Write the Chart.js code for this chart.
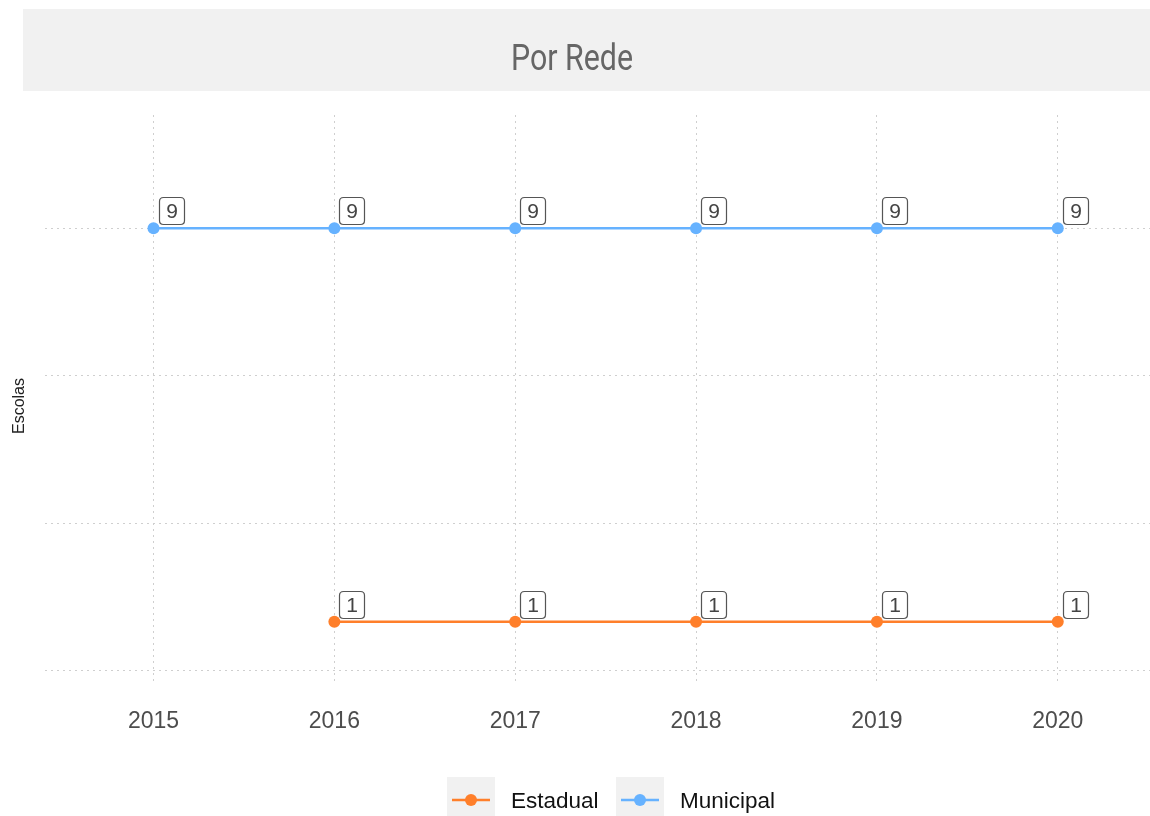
<!DOCTYPE html>
<html>
<head>
<meta charset="utf-8">
<script src="https://cdn.jsdelivr.net/npm/chart.js@4"></script>
<style>
  html, body { margin: 0; padding: 0; background: #fff; }
  #wrap { width: 1150px; height: 816px; }
</style>
</head>
<body>
<div id="wrap"><canvas id="redeChart" width="1150" height="816"></canvas></div>
<script>
const anos = [2015, 2016, 2017, 2018, 2019, 2020];
const estadual = [null, 1, 1, 1, 1, 1];
const municipal = [9, 9, 9, 9, 9, 9];
const yTicks = [0, 3, 6, 9];

const corEstadual = '#ff7f2a';
const corMunicipal = '#66b2ff';

function pares(valores) {
  return anos.map((a, i) => ({ x: a, y: valores[i] }));
}

// faixa cinza com o titulo
const tituloPlugin = {
  id: 'titulo',
  beforeDraw(chart) {
    const ctx = chart.ctx;
    ctx.save();
    ctx.fillStyle = '#f1f1f1';
    ctx.fillRect(23, 9, chart.width - 23, 82);
    ctx.font = '36px Roboto';
    ctx.fillStyle = '#666';
    ctx.textAlign = 'center';
    ctx.textBaseline = 'alphabetic';
    const w = ctx.measureText('Por Rede').width;
    const sx = 122 / w;
    ctx.translate(572, 70);
    ctx.scale(sx, 1);
    ctx.fillText('Por Rede', 0, 0);
    ctx.restore();

    // titulo do eixo y
    ctx.save();
    ctx.font = '16px "Liberation Sans"';
    ctx.fillStyle = '#222';
    ctx.textAlign = 'center';
    ctx.textBaseline = 'middle';
    ctx.translate(20, 406);
    ctx.rotate(-Math.PI / 2);
    ctx.fillText('Escolas', 0, 0);
    ctx.restore();
  }
};

// rotulos com o valor de cada ponto
function caixa(ctx, x, y, w, h, r) {
  ctx.beginPath();
  ctx.moveTo(x + r, y);
  ctx.lineTo(x + w - r, y);
  ctx.quadraticCurveTo(x + w, y, x + w, y + r);
  ctx.lineTo(x + w, y + h - r);
  ctx.quadraticCurveTo(x + w, y + h, x + w - r, y + h);
  ctx.lineTo(x + r, y + h);
  ctx.quadraticCurveTo(x, y + h, x, y + h - r);
  ctx.lineTo(x, y + r);
  ctx.quadraticCurveTo(x, y, x + r, y);
  ctx.closePath();
}

const rotulosPlugin = {
  id: 'rotulos',
  afterDatasetsDraw(chart) {
    const ctx = chart.ctx;
    ctx.save();
    ctx.font = '21px "Liberation Sans"';
    ctx.textAlign = 'center';
    ctx.textBaseline = 'middle';
    chart.data.datasets.forEach((ds, di) => {
      const meta = chart.getDatasetMeta(di);
      meta.data.forEach((pt, i) => {
        const v = ds.data[i].y;
        if (v === null) return;
        const bx = Math.round(pt.x) + 5, by = Math.round(pt.y) - 31;
        caixa(ctx, bx + 0.5, by + 0.5, 25, 27, 4);
        ctx.fillStyle = '#fff';
        ctx.fill();
        ctx.strokeStyle = '#555';
        ctx.lineWidth = 1.2;
        ctx.stroke();
        ctx.fillStyle = '#444';
        ctx.fillText(String(v), bx + 13, by + 15);
      });
    });
    ctx.restore();
  }
};

// legenda embaixo com fundo cinza nas chaves
const legendaPlugin = {
  id: 'legenda',
  afterDraw(chart) {
    const ctx = chart.ctx;
    const itens = [
      { label: 'Estadual', cor: corEstadual, bx: 447, tx: 511 },
      { label: 'Municipal', cor: corMunicipal, bx: 616, tx: 680 }
    ];
    ctx.save();
    itens.forEach(it => {
      ctx.fillStyle = '#f1f1f1';
      ctx.fillRect(it.bx, 777, 48, 46);
      ctx.strokeStyle = it.cor;
      ctx.lineWidth = 2.5;
      ctx.beginPath();
      ctx.moveTo(it.bx + 5, 800);
      ctx.lineTo(it.bx + 43, 800);
      ctx.stroke();
      ctx.fillStyle = it.cor;
      ctx.beginPath();
      ctx.arc(it.bx + 24, 800, 6, 0, Math.PI * 2);
      ctx.fill();
      ctx.font = '22.5px "Liberation Sans"';
      ctx.fillStyle = '#111';
      ctx.textAlign = 'left';
      ctx.textBaseline = 'alphabetic';
      ctx.fillText(it.label, it.tx, 808);
    });
    ctx.restore();
  }
};

const gradePontilhada = {
  color: '#cfcfcf',
  lineWidth: 1,
  drawTicks: false
};

new Chart(document.getElementById('redeChart').getContext('2d'), {
  type: 'line',
  data: {
    datasets: [
      {
        label: 'Estadual',
        data: pares(estadual),
        borderColor: corEstadual,
        backgroundColor: corEstadual,
        borderWidth: 2.5,
        pointRadius: 6,
        pointBorderWidth: 0,
        spanGaps: false
      },
      {
        label: 'Municipal',
        data: pares(municipal),
        borderColor: corMunicipal,
        backgroundColor: corMunicipal,
        borderWidth: 2.5,
        pointRadius: 6,
        pointBorderWidth: 0
      }
    ]
  },
  options: {
    responsive: false,
    animation: false,
    clip: false,
    layout: { autoPadding: false, padding: { top: 115, left: 0, right: 0, bottom: 0 } },
    plugins: {
      legend: { display: false },
      tooltip: { enabled: false }
    },
    scales: {
      x: {
        type: 'linear',
        min: 2014.4,
        max: 2020.51,
        afterBuildTicks: axis => { axis.ticks = anos.map(v => ({ value: v })); },
        afterFit: axis => { axis.height = 131; },
        border: { display: false, dash: [2, 4] },
        grid: gradePontilhada,
        ticks: {
          padding: 23,
          color: '#4d4d4d',
          font: { family: 'Liberation Sans', size: 23 },
          callback: v => String(v)
        }
      },
      y: {
        min: -0.285,
        max: 11.3,
        afterBuildTicks: axis => { axis.ticks = yTicks.map(v => ({ value: v })); },
        afterFit: axis => { axis.width = 45; },
        border: { display: false, dash: [2, 4] },
        grid: gradePontilhada,
        ticks: { display: false }
      }
    }
  },
  plugins: [tituloPlugin, rotulosPlugin, legendaPlugin]
});
</script>
</body>
</html>
